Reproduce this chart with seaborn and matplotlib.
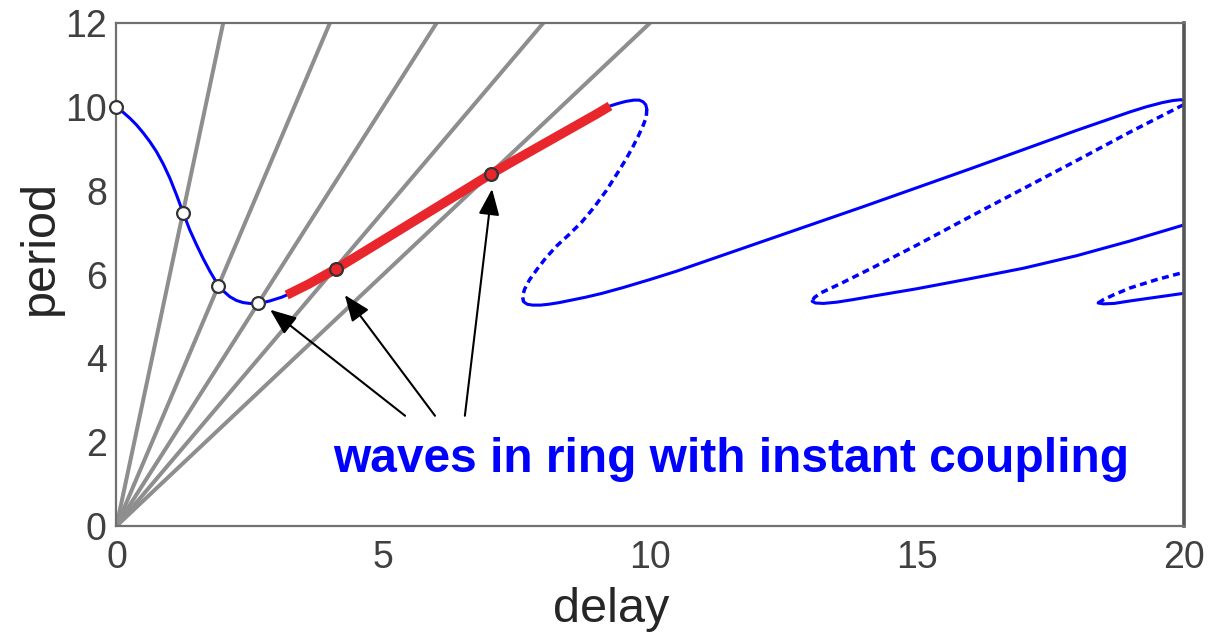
import numpy as np
import pandas as pd
import matplotlib
matplotlib.use("Agg")
import matplotlib.pyplot as plt
import seaborn as sns

# Rays T = s * tau through the origin
ray_slopes = [6.0, 3.0, 2.0, 1.5, 1.2]

# Branch 1: stable part (blue) starting at zero delay
b1_delay = [0.0, 0.125, 0.25, 0.375, 0.5, 0.625, 0.75, 0.875, 1.0, 1.125, 1.25,
            1.375, 1.5, 1.625, 1.75, 1.875, 2.0, 2.125, 2.25, 2.375, 2.5, 2.625,
            2.75, 2.875, 3.0, 3.1, 3.19]
b1_period = [10.0, 9.87, 9.73, 9.57, 9.38, 9.17, 8.93, 8.64, 8.30, 7.90, 7.47,
             7.06, 6.71, 6.38, 6.08, 5.81, 5.61, 5.47, 5.38, 5.33, 5.31, 5.31,
             5.33, 5.37, 5.42, 5.46, 5.51]

# Branch 1: wave solutions highlighted in red
red_delay = [3.19, 3.6, 4.11, 4.6, 5.1, 5.6, 6.1, 6.6, 7.02, 7.5, 8.0, 8.5, 9.0, 9.25]
red_period = [5.51, 5.77, 6.13, 6.51, 6.90, 7.29, 7.68, 8.07, 8.40, 8.75, 9.11,
              9.47, 9.83, 10.02]

# Branch 1: cap before the fold
cap_delay = [9.25, 9.40, 9.55, 9.70, 9.80, 9.87, 9.92, 9.94]
cap_period = [10.02, 10.08, 10.13, 10.16, 10.16, 10.12, 10.05, 9.95]

# Unstable (dashed) pieces
d1_delay = [9.94, 9.93, 9.87, 9.78, 9.68, 9.55, 9.38, 9.18, 8.95, 8.72, 8.48,
            8.25, 8.05, 7.88, 7.74, 7.65, 7.61, 7.63]
d1_period = [9.95, 9.75, 9.55, 9.30, 9.05, 8.75, 8.40, 8.00, 7.60, 7.25, 6.95,
             6.68, 6.40, 6.12, 5.87, 5.65, 5.48, 5.35]
d2_delay = [20.0, 19.0, 18.0, 17.0, 16.0, 15.0, 14.6, 14.2, 13.9, 13.6, 13.4,
            13.2, 13.08, 13.04]
d2_period = [10.05, 9.40, 8.72, 8.05, 7.38, 6.70, 6.44, 6.18, 5.99, 5.80, 5.68,
             5.56, 5.45, 5.36]
d3_delay = [18.40, 18.50, 18.70, 19.00, 19.50, 20.00]
d3_period = [5.32, 5.40, 5.52, 5.68, 5.88, 6.05]

# Stable (solid) pieces after each fold
s2_delay = [7.63, 7.70, 7.80, 7.95, 8.10, 8.30, 8.53, 8.80, 9.10, 9.50, 10.0, 10.5,
            11.0, 12.0, 13.0, 14.0, 15.0, 16.0, 17.0, 18.0, 19.0, 19.3, 19.6,
            19.8, 19.95, 20.05]
s2_period = [5.35, 5.29, 5.27, 5.27, 5.29, 5.33, 5.39, 5.46, 5.55, 5.69, 5.88, 6.08,
             6.30, 6.74, 7.18, 7.62, 8.07, 8.52, 8.98, 9.44, 9.88, 10.00, 10.10,
             10.15, 10.17, 10.14]
s3_delay = [13.04, 13.10, 13.25, 13.50, 13.80, 14.30, 15.0, 16.0, 17.0, 18.0, 19.0, 20.0]
s3_period = [5.36, 5.32, 5.31, 5.34, 5.40, 5.51, 5.66, 5.90, 6.15, 6.45, 6.80, 7.18]
s4_delay = [18.40, 18.50, 18.70, 19.00, 19.50, 20.00]
s4_period = [5.32, 5.30, 5.31, 5.37, 5.46, 5.55]

# Intersections of branch 1 with the rays
open_delay = [0.0, 1.245, 1.91, 2.66]
open_period = [10.0, 7.47, 5.73, 5.32]
wave_delay = [4.11, 7.02]
wave_period = [6.13, 8.40]

# Annotation
note_text = "waves in ring with instant coupling"
arrow_tails = [(5.41, 2.63), (5.97, 2.63), (6.53, 2.63)]
arrow_heads = [(2.88, 5.16), (4.28, 5.51), (7.04, 8.04)]

x_ticks = [0, 5, 10, 15, 20]
y_ticks = [0, 2, 4, 6, 8, 10, 12]

sns.set_theme(style="white")
plt.rcParams["font.family"] = ["Liberation Sans", "DejaVu Sans"]

fig = plt.figure(figsize=(12.12, 6.44), dpi=100)
ax = fig.add_axes([0.0961, 0.1832, 0.8804, 0.7811])

BLUE = "#0000ff"
RED = "#e8262b"
GRAY = "#8e8e8e"

# rays from the origin, each running to the top of the plot
for s in ray_slopes:
    ray = pd.DataFrame({"delay": [0.0, 12.0 / s], "period": [0.0, 12.0]})
    sns.lineplot(data=ray, x="delay", y="period", ax=ax, color=GRAY, lw=2.9,
                 sort=False, estimator=None, zorder=2)


def curve(xs, ys, **kw):
    df = pd.DataFrame({"delay": xs, "period": ys})
    sns.lineplot(data=df, x="delay", y="period", ax=ax, sort=False,
                 estimator=None, solid_joinstyle="round", **kw)


solid = dict(color=BLUE, lw=2.2, zorder=3)
dashed = dict(color=BLUE, lw=2.5, zorder=3, linestyle=(0, (2.0, 1.3)))

curve(b1_delay, b1_period, **solid)
curve(cap_delay, cap_period, **solid)
curve(s2_delay, s2_period, **solid)
curve(s3_delay, s3_period, **solid)
curve(s4_delay, s4_period, **solid)
curve(d1_delay, d1_period, **dashed)
curve(d2_delay, d2_period, **dashed)
curve(d3_delay, d3_period, **dashed)
curve(red_delay, red_period, color=RED, lw=6.8, zorder=4, solid_capstyle="butt")

sns.scatterplot(x=open_delay, y=open_period, ax=ax, s=85, color="white",
                edgecolor="#333333", linewidth=1.6, zorder=6, clip_on=False)
sns.scatterplot(x=wave_delay, y=wave_period, ax=ax, s=85, color=RED,
                edgecolor="#333333", linewidth=1.6, zorder=6)

for tail, head in zip(arrow_tails, arrow_heads):
    ax.annotate("", xy=head, xytext=tail, zorder=7,
                arrowprops=dict(arrowstyle="-|>,head_length=0.8,head_width=0.32",
                                color="black", lw=1.5, shrinkA=0, shrinkB=0,
                                mutation_scale=20))

ax.text(4.06, 1.29, note_text, color=BLUE, fontsize=34.5, fontweight="bold",
        ha="left", va="baseline", zorder=8)

ax.set_xlim(0, 20)
ax.set_ylim(0, 12)
ax.set_xticks(x_ticks)
ax.set_yticks(y_ticks)
ax.tick_params(axis="both", direction="in", length=8.5, width=1.1,
               color="#555555", labelsize=27, labelcolor="#404040")
ax.tick_params(axis="x", pad=10)
ax.tick_params(axis="y", pad=7)
ax.tick_params(top=False, right=False)

ax.set_xlabel("delay", fontsize=35, color="#262626")
ax.set_ylabel("period", fontsize=35, color="#262626")
ax.xaxis.set_label_coords(0.464, -0.122)
ax.yaxis.set_label_coords(-0.050, 0.553)

for side in ["left", "bottom", "top"]:
    ax.spines[side].set_color("#707070")
    ax.spines[side].set_linewidth(1.6)
ax.spines["right"].set_color("#555555")
ax.spines["right"].set_linewidth(2.6)
for sp in ax.spines.values():
    sp.set_visible(True)
    sp.set_zorder(5)

ax.set_facecolor("white")
fig.patch.set_facecolor("white")
fig.savefig("out.png", dpi=100, facecolor="white")
